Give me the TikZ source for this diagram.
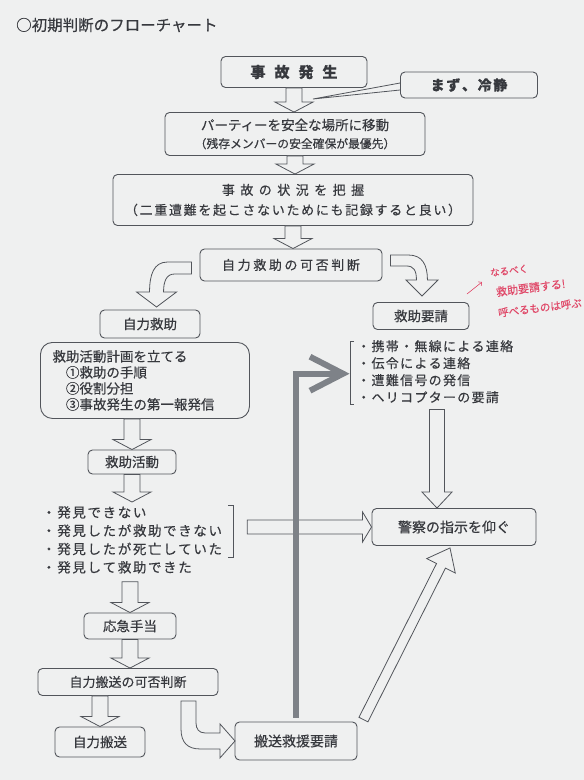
\documentclass[tikz,border=0pt]{standalone}
\usepackage{fontspec}
\setmainfont{Noto Sans CJK JP}[FakeBold=0.35]
\usepackage{tikz}
\usetikzlibrary{arrows.meta, positioning, calc}
\definecolor{paper}{RGB}{239,240,240}
\definecolor{ink}{RGB}{55,57,62}
\definecolor{frame}{RGB}{82,85,91}
\definecolor{barGray}{RGB}{126,130,136}
\definecolor{pen}{RGB}{224,72,104}

% spread the characters of a line
\makeatletter
\newcommand{\spread}[2]{%
  \def\spr@sep{}%
  \@tfor\spr@c:=#2\do{\spr@sep\spr@c\def\spr@sep{\hspace{#1}}}%
}
\makeatother

% hollow block arrow: [style]{from}{to}{shaft half}{head half}{head length}
\newcommand{\blockarrow}[6][]{%
  \coordinate (ba-base) at ($#3!#6!#2$);
  \draw[hollow,#1] ($#2!#4!90:#3$) -- ($(ba-base)!#4!90:#3$) -- ($(ba-base)!#5!90:#3$) -- #3
    -- ($(ba-base)!#5!-90:#3$) -- ($(ba-base)!#4!-90:#3$) -- ($#2!#4!-90:#3$) -- cycle;
}

\begin{document}
\begin{tikzpicture}[x=1pt, y=-1pt, >=Stealth, text=ink, font=\fontsize{13.5}{16}\selectfont]

% --- Style Definitions ---
\tikzstyle{stepbox}=[draw=frame, line width=0.9pt, rounded corners=4.5pt, fill=paper, inner sep=0pt, text=ink]
\tikzstyle{hollow}=[draw=frame, line width=0.8pt, fill=paper, line join=miter]
\tikzstyle{listtext}=[anchor=north west, inner sep=0pt, align=left, text=ink]
\tikzstyle{bracket}=[draw=frame, line width=0.8pt]
\tikzstyle{bigbar}=[draw=barGray, line width=6pt, line join=miter]
\tikzstyle{memo}=[text=pen, inner sep=0pt, anchor=west, rotate=7]

% paper
\fill[paper] (0,0) rectangle (584,780);
\useasboundingbox (0,0) rectangle (584,780);

\node[anchor=west, inner sep=0pt, font=\fontsize{15.5}{17}\selectfont] (title) at (16,25) {○初期判断のフローチャート};

% --- 1. Top column ---
\node[stepbox, minimum width=146, minimum height=31, font=\bfseries\fontsize{15}{17}\selectfont] (b1) at (294,72) {\spread{0.6em}{事故発生}};
\node[stepbox, minimum width=137, minimum height=26, font=\bfseries\fontsize{14}{16}\selectfont] (b2) at (469,85) {\spread{0.12em}{まず、冷静}};
\coordinate (calltip) at (313,99);
\draw[bracket] ($(b2.west)+(0,-2)$) -- (calltip) -- ($(b2.west)+(0,5)$);

\node[stepbox, minimum width=260, minimum height=43, align=center, font=\fontsize{13.5}{17}\selectfont] (b3) at (295,134)
  {パーティーを安全な場所に移動\\[1pt]{\fontsize{11.8}{14}\selectfont （残存メンバーの安全確保が最優先）}};
\node[stepbox, minimum width=360, minimum height=51, align=center, font=\fontsize{13}{17}\selectfont] (b4) at (293,200)
  {\spread{0.42em}{事故の状況を把握}\\[3pt]\spread{0.13em}{（二重遭難を起こさないためにも記録すると良い）}};
\node[stepbox, minimum width=182, minimum height=32, font=\fontsize{13}{15}\selectfont] (b5) at (291,265) {\spread{0.2em}{自力救助の可否判断}};

\blockarrow{(b1.south)}{(b1.south |- b3.north)}{8pt}{19pt}{10pt}
\blockarrow{(b3.south)}{(b3.south |- b4.north)}{8pt}{19pt}{10pt}
\blockarrow{(b4.south)}{(b4.south |- b5.north)}{8pt}{19pt}{10pt}

% --- 2. The two branches ---
\node[stepbox, minimum width=100, minimum height=28] (b6) at (150,324) {自力救助};
\node[stepbox, minimum width=96, minimum height=27] (b7) at (421,316) {救助要請};

\coordinate (clstart) at ($(b5.west)+(-8,-3)$);
\draw[hollow, shift={(clstart)}] (0,0) -- (-24,0) .. controls (-38,0) and (-42,13) .. (-42,30) -- (-55,30) -- (-35,45)
  -- (-15,30) -- (-28,30) .. controls (-28,19) and (-25,12) .. (-17,12) -- (0,12) -- cycle;
\coordinate (crstart) at ($(b5.east)+(8,-10)$);
\draw[hollow, shift={(crstart)}] (0,0) -- (18,0) .. controls (32,0) and (37,10) .. (37,25) -- (47.5,25) -- (31.5,41)
  -- (15.5,25) -- (26,25) .. controls (26,15) and (23,11) .. (16,11) -- (0,11) -- cycle;

% handwritten memo
\node[memo, font=\fontsize{9.5}{11}\selectfont] (m1) at (490,273) {なるべく};
\node[memo, font=\fontsize{11}{12}\selectfont] (m2) at (496,292) {救助要請する!};
\node[memo, font=\fontsize{10.5}{12}\selectfont] (m3) at (498,313) {呼べるものは呼ぶ};
\coordinate (memostart) at (467,294);
\draw[pen, line width=0.6pt, -{Straight Barb[length=2.5pt]}] (memostart) -- ($(m1.west)+(-8,9)$);

% --- 3. Self rescue column ---
\node[stepbox, rounded corners=12pt, anchor=north west, minimum width=209, minimum height=76, align=left,
  text width=185pt, inner xsep=12pt] (b8) at (40,342)
  {救助活動計画を立てる\\\hspace*{1em}①救助の手順\\\hspace*{1em}②役割分担\\\hspace*{1em}③事故発生の第一報発信};
\node[stepbox, minimum width=88, minimum height=24] (b9) at (132,462) {救助活動};
\node[listtext, font=\fontsize{13.5}{18.3}\selectfont] (out) at (42,506)
  {\spread{0.12em}{・発見できない}\\\spread{0.12em}{・発見したが救助できない}\\\spread{0.12em}{・発見したが死亡していた}\\\spread{0.12em}{・発見して救助できた}};
\draw[bracket] ($(out.north east)+(6,-1)$) -- ++(5,0) -- ++(0,52) -- ++(-5,0);
\node[stepbox, minimum width=92, minimum height=26] (b11) at (130,626) {応急手当};
\node[stepbox, minimum width=180, minimum height=27, font=\fontsize{13}{15}\selectfont] (b12) at (128,682) {自力搬送の可否判断};
\node[stepbox, minimum width=90, minimum height=30] (b13) at (100,742) {自力搬送};

\blockarrow{(b9.north |- b8.south)}{(b9.north)}{8pt}{19pt}{10pt}
\blockarrow{(b9.south)}{($(b9.south |- out.north)+(0,-4)$)}{8pt}{19pt}{10pt}
\blockarrow{($(b11.north |- out.south)+(0,8)$)}{(b11.north)}{8pt}{19pt}{10pt}
\blockarrow{(b11.south)}{(b11.south |- b12.north)}{8pt}{19pt}{10pt}
\blockarrow{(b13.north |- b12.south)}{(b13.north)}{8pt}{19pt}{10pt}

% --- 4. Request column ---
\node[listtext, font=\fontsize{13}{17}\selectfont] (rl) at (357,340)
  {\spread{0.1em}{・携帯・無線による連絡}\\\spread{0.1em}{・伝令による連絡}\\\spread{0.1em}{・遭難信号の発信}\\\spread{0.1em}{・ヘリコプターの要請}};
\draw[bracket] ($(rl.north west)+(-3,1)$) -- ++(-4,0) -- ($(rl.south west)+(-7,1)$) -- ++(4,0);
\node[stepbox, minimum width=164, minimum height=37, font=\fontsize{14}{16}\selectfont] (b10) at (454,527) {警察の指示を仰ぐ};
\node[stepbox, minimum width=122, minimum height=38, font=\fontsize{14}{16}\selectfont] (b14) at (296,741) {搬送救援要請};

\coordinate (avtop) at ($(rl.south west)+(80,6)$);
\blockarrow{(avtop)}{(avtop |- b10.north)}{7.5pt}{15pt}{16pt}
\coordinate (ahx) at ($(out.north east)+(25,0)$);
\blockarrow{(ahx |- b10.west)}{(b10.west)}{7pt}{15pt}{9pt}
\blockarrow{($(b14.north east)+(6,-2)$)}{($(b10.south)+(-4,2)$)}{5pt}{16pt}{20pt}

\coordinate (cbstart) at ($(b12.south)+(53,5)$);
\draw[hollow, shift={(cbstart)}] (0,0) -- (0,28) .. controls (0,42) and (7,48) .. (19,48) -- (39,48) -- (39,57) -- (54,40)
  -- (39,23) -- (39,32) -- (24,32) .. controls (18,32) and (15,28) .. (15,22) -- (15,0) -- cycle;

% --- 5. Gray return path ---
\coordinate (graytip) at ($(rl.west)+(-14,2)$);
\draw[bigbar] ($(b14.north)+(0,-4)$) |- ($(graytip)+(-3,0)$);
\draw[bigbar] ($(graytip)+(-33,-17)$) -- (graytip) -- ($(graytip)+(-33,17)$);

\end{tikzpicture}
\end{document}
